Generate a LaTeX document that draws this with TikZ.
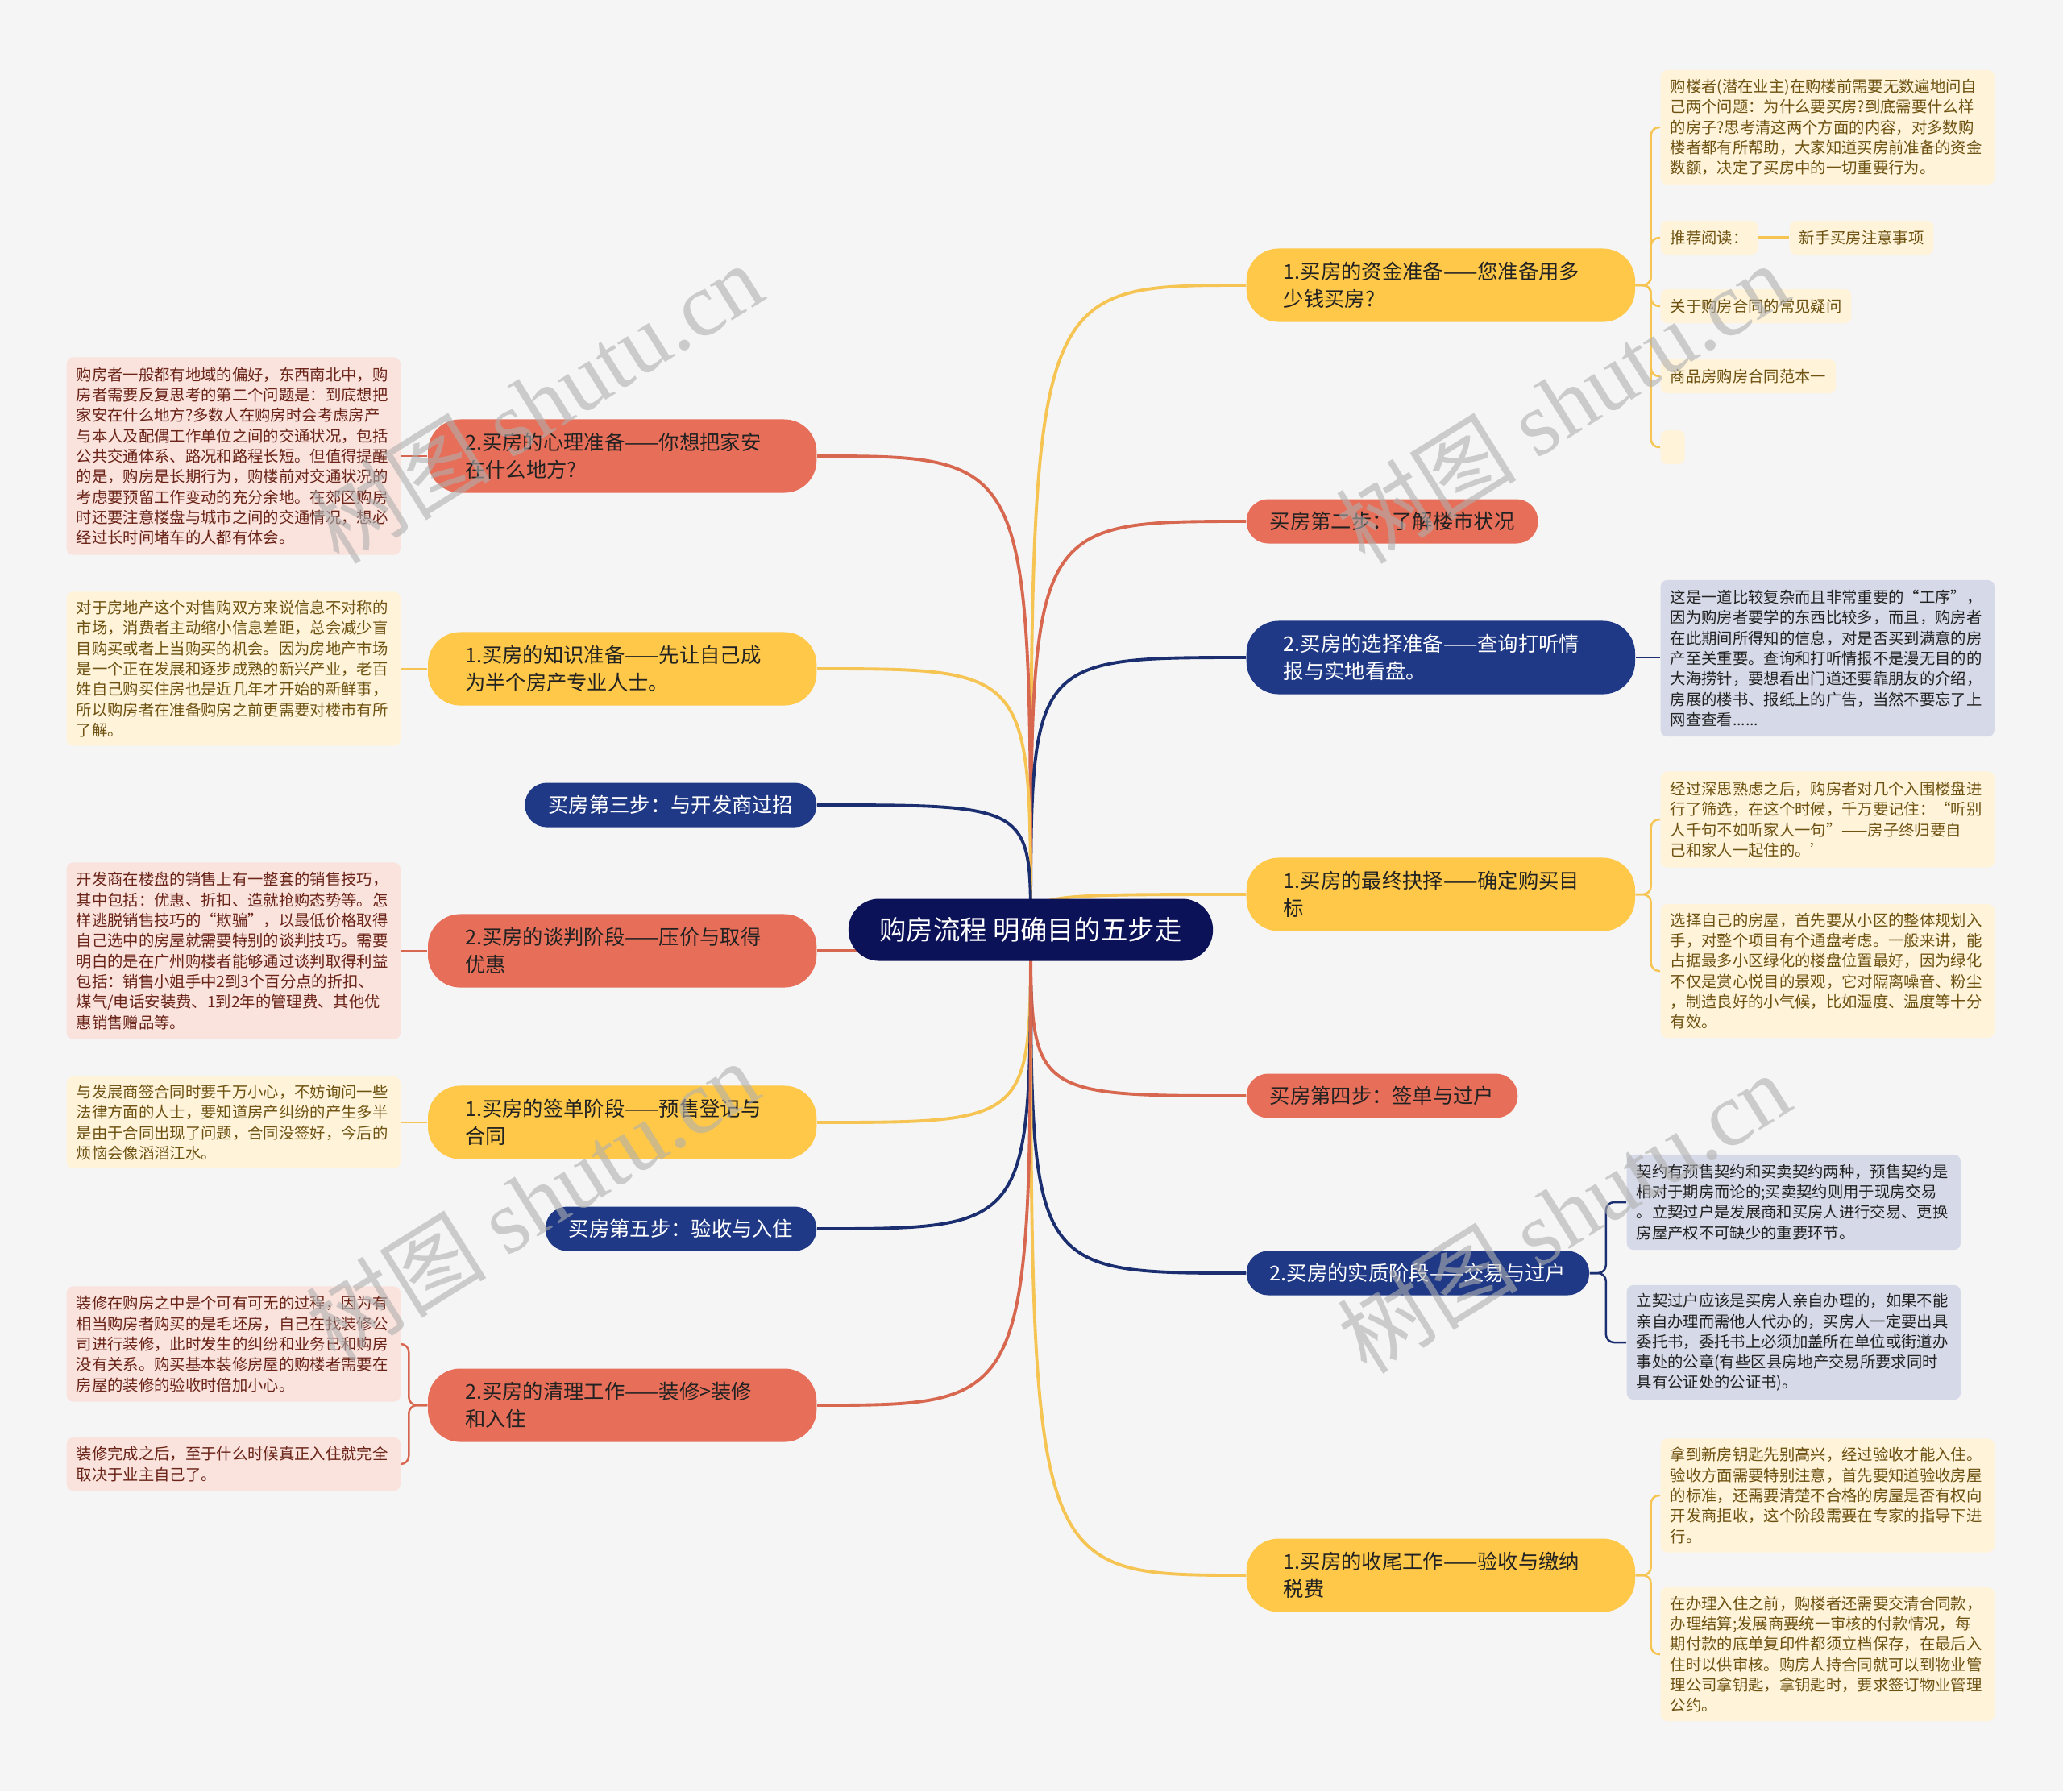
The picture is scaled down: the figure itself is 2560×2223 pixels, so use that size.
\documentclass[tikz,border=0pt]{standalone}
\usepackage{fontspec}
\setmainfont{Noto Sans CJK SC}
\newfontfamily\wmserif{Liberation Serif}
\usepackage{xcolor}
\usetikzlibrary{backgrounds}
\definecolor{PaperGray}{HTML}{F5F5F5}
\definecolor{HubNavy}{HTML}{0C1258}
\definecolor{StepYellow}{HTML}{FFC848}
\definecolor{StepRed}{HTML}{E76F59}
\definecolor{StepBlue}{HTML}{1F3986}
\definecolor{LinkYellow}{HTML}{F5C453}
\definecolor{LinkRed}{HTML}{D8674F}
\definecolor{LinkBlue}{HTML}{1B2F70}
\definecolor{NoteYellow}{HTML}{FFF4DA}
\definecolor{NoteRed}{HTML}{FAE2DD}
\definecolor{NoteBlue}{HTML}{D6DAE8}
\definecolor{InkGold}{HTML}{6E5212}
\definecolor{InkRust}{HTML}{6A2418}
\definecolor{InkDark}{HTML}{222222}
\definecolor{MarkGray}{HTML}{AFAFAF}

\newcommand{\hubsize}{\fontsize{9.5pt}{12pt}\selectfont}
\newcommand{\stepsize}{\fontsize{7.2pt}{9.7pt}\selectfont}
\newcommand{\notesize}{\fontsize{5.5pt}{7.2pt}\selectfont}
\newcommand{\marksize}{\fontsize{32pt}{38pt}\selectfont}

\tikzset{
  stepbox/.style={rounded corners=0.27cm, font=\stepsize, align=left, anchor=west, minimum height=0.55cm, inner xsep=0.29cm, inner ysep=0pt},
  steptwo/.style={stepbox, rounded corners=0.4cm, text width=3.9cm, inner xsep=0.46cm, minimum height=0.91cm},
  notebox/.style={rounded corners=0.08cm, font=\notesize, align=left, anchor=west, text width=3.9cm, inner xsep=0.12cm, inner ysep=0pt},
  tagbox/.style={rounded corners=0.08cm, font=\notesize, anchor=west, inner xsep=0.12cm, inner ysep=0pt, minimum height=0.42cm},
  hublink/.style={line width=1.1pt},
  notelink/.style={line width=0.7pt, rounded corners=0.1cm}
}

\begin{document}
\begin{tikzpicture}[x=0.01cm, y=-0.01cm]
		\useasboundingbox (0,0) rectangle (2560,2223);

		% centre
		\node[fill=HubNavy, text=white, font=\hubsize, rounded corners=0.38cm, minimum width=4.52cm, minimum height=0.77cm] (hub) at (1279,1154) {购房流程 明确目的五步走};

		% right branches
		\node[steptwo, fill=StepYellow, text=InkDark] (r1) at (1546,354) {1.买房的资金准备——您准备用多\\少钱买房?};
		\node[stepbox, fill=StepRed, text=InkDark] (r2) at (1546,647) {买房第二步：了解楼市状况};
		\node[steptwo, fill=StepBlue, text=white] (r3) at (1546,816) {2.买房的选择准备——查询打听情\\报与实地看盘。};
		\node[steptwo, fill=StepYellow, text=InkDark] (r4) at (1546,1110) {1.买房的最终抉择——确定购买目\\标};
		\node[stepbox, fill=StepRed, text=InkDark] (r5) at (1546,1360) {买房第四步：签单与过户};
		\node[stepbox, fill=StepBlue, text=white] (r6) at (1546,1580) {2.买房的实质阶段——交易与过户};
		\node[steptwo, fill=StepYellow, text=InkDark] (r7) at (1546,1955) {1.买房的收尾工作——验收与缴纳\\税费};

		% left branches
		\node[steptwo, anchor=east, fill=StepRed, text=InkDark] (l1) at (1014,566) {2.买房的心理准备——你想把家安\\在什么地方?};
		\node[steptwo, anchor=east, fill=StepYellow, text=InkDark] (l2) at (1014,830) {1.买房的知识准备——先让自己成\\为半个房产专业人士。};
		\node[stepbox, anchor=east, fill=StepBlue, text=white] (l3) at (1014,999) {买房第三步：与开发商过招};
		\node[steptwo, anchor=east, fill=StepRed, text=InkDark] (l4) at (1014,1180) {2.买房的谈判阶段——压价与取得\\优惠};
		\node[steptwo, anchor=east, fill=StepYellow, text=InkDark] (l5) at (1014,1393) {1.买房的签单阶段——预售登记与\\合同};
		\node[stepbox, anchor=east, fill=StepBlue, text=white] (l6) at (1014,1525) {买房第五步：验收与入住};
		\node[steptwo, anchor=east, fill=StepRed, text=InkDark] (l7) at (1014,1744) {2.买房的清理工作——装修>装修\\和入住};

		% right notes
		\node[notebox, fill=NoteYellow, text=InkGold, minimum height=1.42cm] (r1a) at (2060,158) {购楼者(潜在业主)在购楼前需要无数遍地问自\\己两个问题：为什么要买房?到底需要什么样\\的房子?思考清这两个方面的内容，对多数购\\楼者都有所帮助，大家知道买房前准备的资金\\数额，决定了买房中的一切重要行为。};
		\node[tagbox, fill=NoteYellow, text=InkGold] (r1b) at (2060,295) {推荐阅读：};
		\node[tagbox, fill=NoteYellow, text=InkGold] (r1bx) at (2220,295) {新手买房注意事项};
		\node[tagbox, fill=NoteYellow, text=InkGold] (r1c) at (2060,380) {关于购房合同的常见疑问};
		\node[tagbox, fill=NoteYellow, text=InkGold] (r1d) at (2060,467) {商品房购房合同范本一};
		\node[tagbox, fill=NoteYellow, minimum width=0.3cm] (r1e) at (2060,555) {};
		\node[notebox, fill=NoteBlue, text=InkDark, minimum height=1.94cm] (r3a) at (2060,817) {这是一道比较复杂而且非常重要的“工序”，\\因为购房者要学的东西比较多，而且，购房者\\在此期间所得知的信息，对是否买到满意的房\\产至关重要。查询和打听情报不是漫无目的的\\大海捞针，要想看出门道还要靠朋友的介绍，\\房展的楼书、报纸上的广告，当然不要忘了上\\网查查看......};
		\node[notebox, fill=NoteYellow, text=InkGold, minimum height=1.19cm] (r4a) at (2060,1017) {经过深思熟虑之后，购房者对几个入围楼盘进\\行了筛选，在这个时候，千万要记住：“听别\\人千句不如听家人一句”——房子终归要自\\己和家人一起住的。'};
		\node[notebox, fill=NoteYellow, text=InkGold, minimum height=1.66cm] (r4b) at (2060,1205) {选择自己的房屋，首先要从小区的整体规划入\\手，对整个项目有个通盘考虑。一般来讲，能\\占据最多小区绿化的楼盘位置最好，因为绿化\\不仅是赏心悦目的景观，它对隔离噪音、粉尘\\，制造良好的小气候，比如湿度、温度等十分\\有效。};
		\node[notebox, fill=NoteBlue, text=InkDark, minimum height=1.18cm] (r6a) at (2018,1492) {契约有预售契约和买卖契约两种，预售契约是\\相对于期房而论的;买卖契约则用于现房交易\\。立契过户是发展商和买房人进行交易、更换\\房屋产权不可缺少的重要环节。};
		\node[notebox, fill=NoteBlue, text=InkDark, minimum height=1.42cm] (r6b) at (2018,1666) {立契过户应该是买房人亲自办理的，如果不能\\亲自办理而需他人代办的，买房人一定要出具\\委托书，委托书上必须加盖所在单位或街道办\\事处的公章(有些区县房地产交易所要求同时\\具有公证处的公证书)。};
		\node[notebox, fill=NoteYellow, text=InkGold, minimum height=1.41cm] (r7a) at (2060,1856) {拿到新房钥匙先别高兴，经过验收才能入住。\\验收方面需要特别注意，首先要知道验收房屋\\的标准，还需要清楚不合格的房屋是否有权向\\开发商拒收，这个阶段需要在专家的指导下进\\行。};
		\node[notebox, fill=NoteYellow, text=InkGold, minimum height=1.66cm] (r7b) at (2060,2053) {在办理入住之前，购楼者还需要交清合同款，\\办理结算;发展商要统一审核的付款情况，每\\期付款的底单复印件都须立档保存，在最后入\\住时以供审核。购房人持合同就可以到物业管\\理公司拿钥匙，拿钥匙时，要求签订物业管理\\公约。};

		% left notes
		\node[notebox, fill=NoteRed, text=InkRust, minimum height=2.45cm] (l1a) at (82,566) {购房者一般都有地域的偏好，东西南北中，购\\房者需要反复思考的第二个问题是：到底想把\\家安在什么地方?多数人在购房时会考虑房产\\与本人及配偶工作单位之间的交通状况，包括\\公共交通体系、路况和路程长短。但值得提醒\\的是，购房是长期行为，购楼前对交通状况的\\考虑要预留工作变动的充分余地。在郊区购房\\时还要注意楼盘与城市之间的交通情况，想必\\经过长时间堵车的人都有体会。};
		\node[notebox, fill=NoteYellow, text=InkGold, minimum height=1.91cm] (l2a) at (82,830) {对于房地产这个对售购双方来说信息不对称的\\市场，消费者主动缩小信息差距，总会减少盲\\目购买或者上当购买的机会。因为房地产市场\\是一个正在发展和逐步成熟的新兴产业，老百\\姓自己购买住房也是近几年才开始的新鲜事，\\所以购房者在准备购房之前更需要对楼市有所\\了解。};
		\node[notebox, fill=NoteRed, text=InkRust, minimum height=2.19cm] (l4a) at (82,1180) {开发商在楼盘的销售上有一整套的销售技巧，\\其中包括：优惠、折扣、造就抢购态势等。怎\\样逃脱销售技巧的“欺骗”，以最低价格取得\\自己选中的房屋就需要特别的谈判技巧。需要\\明白的是在广州购楼者能够通过谈判取得利益\\包括：销售小姐手中2到3个百分点的折扣、\\煤气/电话安装费、1到2年的管理费、其他优\\惠销售赠品等。};
		\node[notebox, fill=NoteYellow, text=InkGold, minimum height=1.14cm] (l5a) at (82,1393) {与发展商签合同时要千万小心，不妨询问一些\\法律方面的人士，要知道房产纠纷的产生多半\\是由于合同出现了问题，合同没签好，今后的\\烦恼会像滔滔江水。};
		\node[notebox, fill=NoteRed, text=InkRust, minimum height=1.43cm] (l7a) at (82,1668) {装修在购房之中是个可有可无的过程，因为有\\相当购房者购买的是毛坯房，自己在找装修公\\司进行装修，此时发生的纠纷和业务已和购房\\没有关系。购买基本装修房屋的购楼者需要在\\房屋的装修的验收时倍加小心。};
		\node[notebox, fill=NoteRed, text=InkRust, minimum height=0.66cm] (l7b) at (82,1817) {装修完成之后，至于什么时候真正入住就完全\\取决于业主自己了。};

		\begin{scope}[on background layer]
			\fill[PaperGray] (0,0) rectangle (2560,2223);
			% links from the centre
			\foreach \s/\clr in {r1/LinkYellow, r2/LinkRed, r3/LinkBlue, r4/LinkYellow, r5/LinkRed, r6/LinkBlue, r7/LinkYellow}
				\draw[hublink, color=\clr] (hub.center) .. controls (hub.center |- \s.west) .. (\s.west);
			\foreach \s/\clr in {l1/LinkRed, l2/LinkYellow, l3/LinkBlue, l4/LinkRed, l5/LinkYellow, l6/LinkBlue, l7/LinkRed}
				\draw[hublink, color=\clr] (hub.center) .. controls (hub.center |- \s.east) .. (\s.east);
			% links to the notes
			\foreach \n in {r1a,r1b,r1c,r1d,r1e}
				\draw[notelink, LinkYellow] (r1.east) -- ++(19,0) |- (\n.west);
			\draw[line width=1.2pt, LinkYellow] (r1b.east) -- (r1bx.west);
			\draw[notelink, LinkBlue] (r3.east) -- (r3.east -| r3a.west);
			\foreach \n in {r4a,r4b}
				\draw[notelink, LinkYellow] (r4.east) -- ++(19,0) |- (\n.west);
			\foreach \n in {r6a,r6b}
				\draw[notelink, LinkBlue] (r6.east) -- ++(20,0) |- (\n.west);
			\foreach \n in {r7a,r7b}
				\draw[notelink, LinkYellow] (r7.east) -- ++(19,0) |- (\n.west);
			\draw[notelink, LinkRed] (l1.west) -- (l1a.east);
			\draw[notelink, LinkYellow] (l2.west) -- (l2a.east);
			\draw[notelink, LinkRed] (l4.west) -- (l4a.east);
			\draw[notelink, LinkYellow] (l5.west) -- (l5a.east);
			\foreach \n in {l7a,l7b}
				\draw[notelink, LinkRed] (l7.west) -- ++(-23,0) |- (\n.east);
		\end{scope}

		% watermarks
		\foreach \p [count=\i] in {(665,500), (1938,500), (660,1490), (1940,1505)}
			\node[font=\marksize, text=MarkGray, opacity=0.6, rotate=32] (mark\i) at \p {树图 {\wmserif shutu.cn}};
	\end{tikzpicture}
\end{document}
